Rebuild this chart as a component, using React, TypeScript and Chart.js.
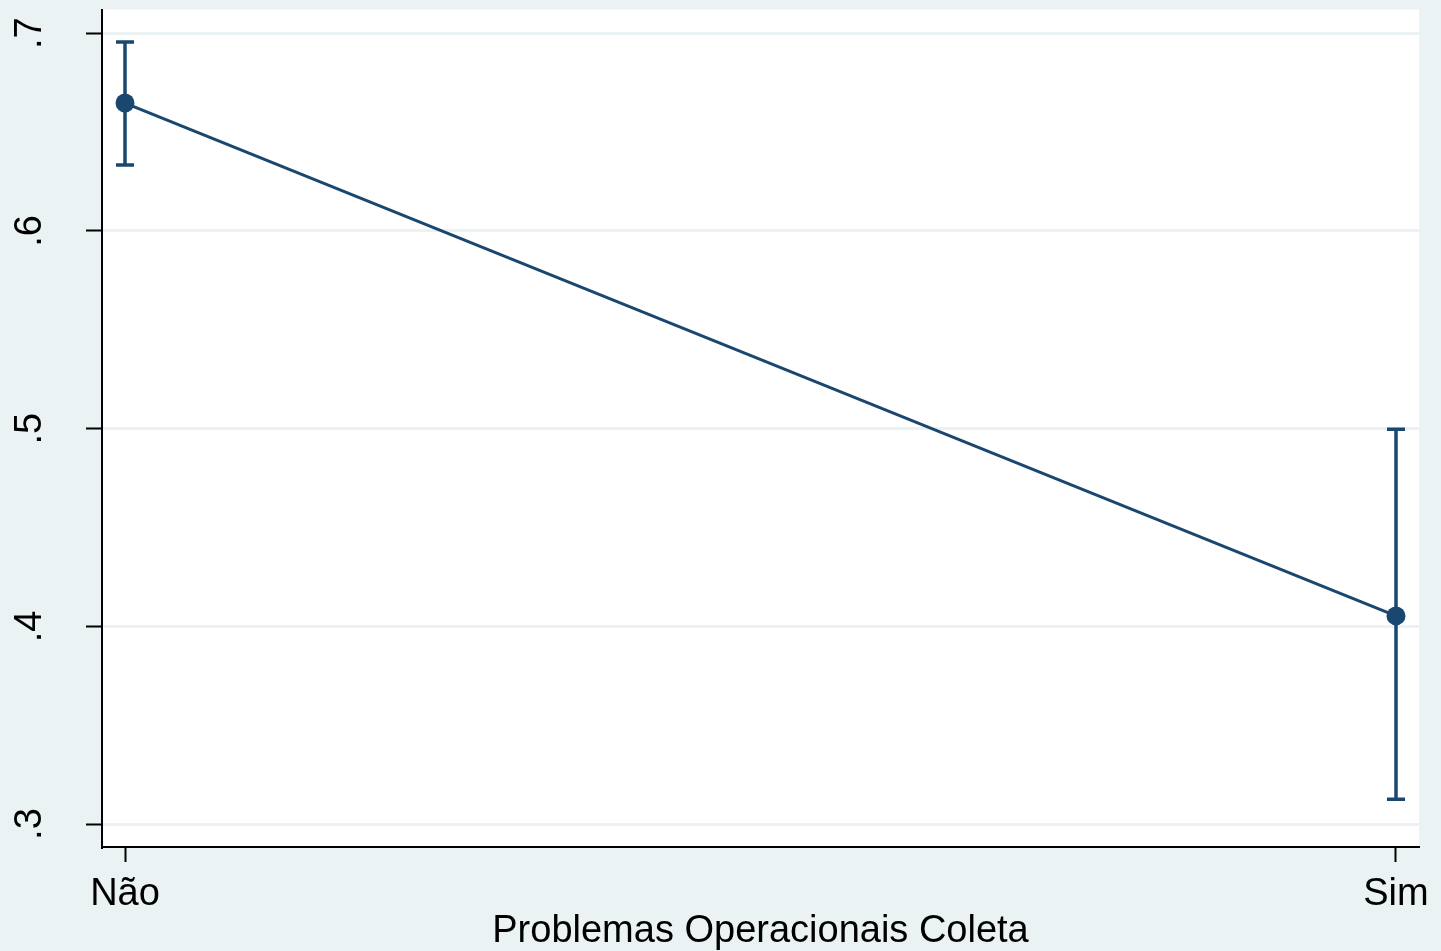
import React, { useEffect, useRef } from "react";
import { Chart, registerables } from "chart.js";

Chart.register(...registerables);

const categories = ["Não", "Sim"];
const margins = [0.6647, 0.4053];
const ciLower = [0.6334, 0.3125];
const ciUpper = [0.6955, 0.4997];
const yTicks = [0.3, 0.4, 0.5, 0.6, 0.7];
const yTickLabels = [".3", ".4", ".5", ".6", ".7"];
const xTitle = "Problemas Operacionais Coleta";

const NAVY = "#1A476F";
const BG = "#EAF2F3";
const FONT = "'Liberation Sans', Arial, sans-serif";

export default function App() {
  const ref = useRef<HTMLCanvasElement | null>(null);

  useEffect(() => {
    const canvas = ref.current;
    if (!canvas) return;

    const bgPlugin = {
      id: "bgPlugin",
      beforeDraw(chart: any) {
        const { ctx, chartArea } = chart;
        ctx.save();
        ctx.fillStyle = BG;
        ctx.fillRect(0, 0, chart.width, chart.height);
        ctx.fillStyle = "#ffffff";
        ctx.fillRect(
          chartArea.left,
          chartArea.top,
          chartArea.right - chartArea.left,
          chartArea.bottom - chartArea.top
        );
        ctx.restore();
      },
    };

    const errorBarPlugin = {
      id: "errorBarPlugin",
      beforeDatasetsDraw(chart: any) {
        const { ctx } = chart;
        const xs = chart.scales.x;
        const ys = chart.scales.y;
        ctx.save();
        ctx.strokeStyle = NAVY;
        ctx.lineWidth = 3.5;
        ctx.lineCap = "butt";
        categories.forEach((_, i) => {
          const px = xs.getPixelForValue(i);
          const yl = ys.getPixelForValue(ciLower[i]);
          const yu = ys.getPixelForValue(ciUpper[i]);
          ctx.beginPath();
          ctx.moveTo(px, yl);
          ctx.lineTo(px, yu);
          ctx.moveTo(px - 9, yl);
          ctx.lineTo(px + 9, yl);
          ctx.moveTo(px - 9, yu);
          ctx.lineTo(px + 9, yu);
          ctx.stroke();
        });
        ctx.restore();
      },
    };

    const yLabelPlugin = {
      id: "yLabelPlugin",
      afterDraw(chart: any) {
        const { ctx } = chart;
        const ys = chart.scales.y;
        ctx.save();
        ctx.fillStyle = "#000000";
        ctx.font = `38px ${FONT}`;
        ctx.textAlign = "center";
        ctx.textBaseline = "alphabetic";
        yTicks.forEach((v, i) => {
          const py = ys.getPixelForValue(v);
          ctx.save();
          ctx.translate(41, py);
          ctx.rotate(-Math.PI / 2);
          ctx.fillText(yTickLabels[i], 0, 0);
          ctx.restore();
        });
        ctx.restore();
      },
    };

    const chart = new Chart(canvas, {
      type: "line",
      data: {
        datasets: [
          {
            data: categories.map((_, i) => ({ x: i, y: margins[i] })),
            borderColor: NAVY,
            backgroundColor: NAVY,
            borderWidth: 3,
            pointRadius: 9.5,
            pointBackgroundColor: NAVY,
            pointBorderColor: NAVY,
            pointBorderWidth: 0,
            tension: 0,
          },
        ],
      },
      options: {
        responsive: false,
        animation: false,
        devicePixelRatio: 1,
        layout: { padding: { top: 7, right: 22, left: 0, bottom: 0 } },
        plugins: {
          legend: { display: false },
          tooltip: { enabled: false },
          title: { display: false },
        },
        scales: {
          x: {
            type: "linear",
            min: -0.0181,
            max: 1.0181,
            afterBuildTicks: (s: any) => {
              s.ticks = categories.map((_, i) => ({ value: i }));
            },
            afterFit: (s: any) => {
              s.height = 104;
            },
            ticks: {
              callback: (v: any) => categories[Math.round(Number(v))] ?? "",
              font: { size: 38, family: FONT },
              color: "#000000",
              padding: 10,
              maxRotation: 0,
              minRotation: 0,
              autoSkip: false,
            },
            grid: {
              drawOnChartArea: false,
              drawTicks: true,
              tickColor: "#000000",
              tickLength: 15,
              tickWidth: 2,
            },
            border: { display: true, color: "#000000", width: 2 },
            title: {
              display: true,
              text: xTitle,
              font: { size: 38, family: FONT },
              color: "#000000",
              padding: { top: 0, bottom: -3 },
            },
          },
          y: {
            type: "linear",
            min: 0.2884,
            max: 0.712,
            afterBuildTicks: (s: any) => {
              s.ticks = yTicks.map((v) => ({ value: v }));
            },
            afterFit: (s: any) => {
              s.width = 102;
            },
            ticks: { display: false },
            grid: {
              color: BG,
              lineWidth: 3,
              drawTicks: true,
              tickColor: "#000000",
              tickLength: 16,
              tickWidth: 2,
            },
            border: { display: true, color: "#000000", width: 2 },
          },
        },
      },
      plugins: [bgPlugin, errorBarPlugin, yLabelPlugin],
    } as any);

    return () => {
      chart.destroy();
    };
  }, []);

  return (
    <div
      style={{
        position: "absolute",
        left: 0,
        top: 0,
        width: 1441,
        height: 951,
        background: BG,
      }}
    >
      <canvas ref={ref} width={1441} height={951} style={{ display: "block" }} />
    </div>
  );
}
